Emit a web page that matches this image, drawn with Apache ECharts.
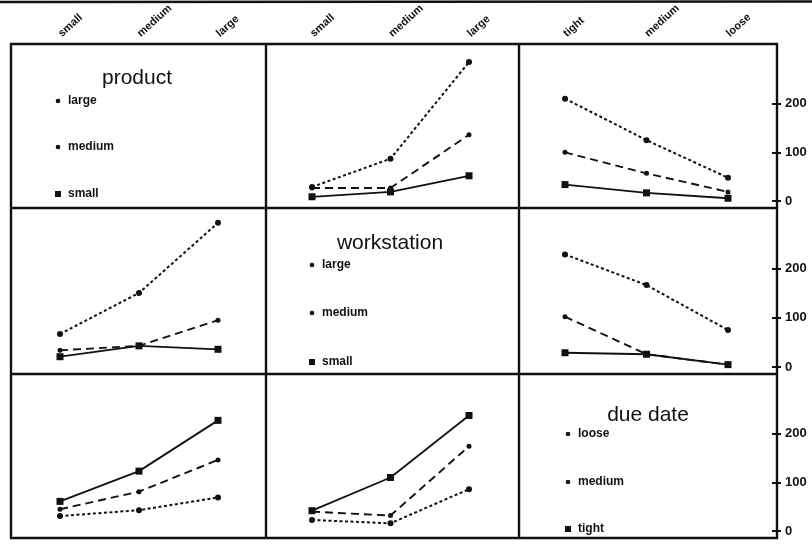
<!DOCTYPE html>
<html><head><meta charset="utf-8">
<script src="https://cdn.jsdelivr.net/npm/echarts@6/dist/echarts.min.js"></script>
<style>html,body{margin:0;padding:0;background:#fff}#c{width:812px;height:547px}</style>
</head><body><div id="c"></div>
<script>
// ---- categories / ticks ----
const productLevels = ['small', 'medium', 'large'];
const workstationLevels = ['small', 'medium', 'large'];
const dueDateLevels = ['tight', 'medium', 'loose'];
const yTicks = [0, 100, 200];

// ---- legend labels (top to bottom) ----
const productLegend = ['large', 'medium', 'small'];
const workstationLegend = ['large', 'medium', 'small'];
const dueDateLegend = ['loose', 'medium', 'tight'];

// ---- row 1: product as trace ----
const productLargeByWorkstation = [29, 87, 285];
const productMediumByWorkstation = [27, 27, 136];
const productSmallByWorkstation = [9, 19, 52];
const productLargeByDueDate = [210, 125, 48];
const productMediumByDueDate = [100, 57, 19];
const productSmallByDueDate = [34, 17, 6];

// ---- row 2: workstation as trace ----
const workstationLargeByProduct = [67, 150, 292];
const workstationMediumByProduct = [34, 43, 95];
const workstationSmallByProduct = [21, 43, 36];
const workstationLargeByDueDate = [228, 166, 75];
const workstationMediumByDueDate = [102, 26, 5];
const workstationSmallByDueDate = [29, 26, 5];

// ---- row 3: due date as trace ----
const dueLooseByProduct = [31, 43, 69];
const dueMediumByProduct = [45, 81, 146];
const dueTightByProduct = [61, 123, 227];
const dueLooseByWorkstation = [23, 16, 86];
const dueMediumByWorkstation = [40, 32, 174];
const dueTightByWorkstation = [42, 110, 237];

// ---- layout ----
const INK = '#111';
const FONT = '"Liberation Sans", Arial, sans-serif';
const colLeft = [60, 312, 565], colWidth = [158, 157, 163];
const rowTop = [44, 208, 374], rowHeight = [164, 166, 164];
const frameX = [11, 266, 519, 777], frameY = [44, 208, 374, 538];
const levels = [productLevels, workstationLevels, dueDateLevels];

const panels = [
  {r: 0, c: 1, data: [productLargeByWorkstation, productMediumByWorkstation, productSmallByWorkstation], names: productLegend},
  {r: 0, c: 2, data: [productLargeByDueDate, productMediumByDueDate, productSmallByDueDate], names: productLegend},
  {r: 1, c: 0, data: [workstationLargeByProduct, workstationMediumByProduct, workstationSmallByProduct], names: workstationLegend},
  {r: 1, c: 2, data: [workstationLargeByDueDate, workstationMediumByDueDate, workstationSmallByDueDate], names: workstationLegend},
  {r: 2, c: 0, data: [dueLooseByProduct, dueMediumByProduct, dueTightByProduct], names: dueDateLegend},
  {r: 2, c: 1, data: [dueLooseByWorkstation, dueMediumByWorkstation, dueTightByWorkstation], names: dueDateLegend}
];

const roleStyle = [
  {type: [3, 2.5], width: 2, symbol: 'circle', size: 6},
  {type: [8, 5], width: 1.9, symbol: 'circle', size: 5},
  {type: 'solid', width: 1.8, symbol: 'rect', size: 7}
];

const grid = [], xAxis = [], yAxis = [], series = [];
const yIndexOf = {};
for (let r = 0; r < 3; r++) {
  for (let c = 0; c < 3; c++) {
    const g = r * 3 + c;
    grid.push({left: colLeft[c], width: colWidth[c], top: rowTop[r], height: rowHeight[r]});
    xAxis.push({
      gridIndex: g, type: 'category', data: levels[c], boundaryGap: false,
      position: 'top', show: r === 0,
      axisLine: {show: false}, axisTick: {show: false}, splitLine: {show: false},
      axisLabel: {interval: 0, rotate: 42, margin: 9, fontSize: 11, fontWeight: 'bold', color: INK, fontFamily: FONT}
    });
    yIndexOf[g] = yAxis.length;
    if (c === 2) {
      yAxis.push({
        gridIndex: g, type: 'value', min: -14, max: 322, position: 'right', offset: 49,
        axisLine: {show: false}, splitLine: {show: false},
        axisTick: {show: true, inside: true, length: 5, customValues: yTicks, lineStyle: {color: INK, width: 2}},
        axisLabel: {show: false}
      });
      yAxis.push({
        gridIndex: g, type: 'value', min: -14, max: 322, position: 'right', offset: 49,
        axisLine: {show: false}, splitLine: {show: false},
        axisTick: {show: true, inside: false, length: 4, customValues: yTicks, lineStyle: {color: INK, width: 2}},
        axisLabel: {show: true, customValues: yTicks, margin: 8, fontSize: 13, fontWeight: 'bold', color: INK, fontFamily: FONT}
      });
    } else {
      yAxis.push({gridIndex: g, type: 'value', min: -14, max: 322, show: false});
    }
  }
}

panels.forEach(p => {
  const g = p.r * 3 + p.c;
  p.data.forEach((vals, k) => {
    const s = roleStyle[k];
    series.push({
      type: 'line', name: p.names[k], xAxisIndex: g, yAxisIndex: yIndexOf[g],
      data: vals, symbol: s.symbol, symbolSize: s.size, showSymbol: true,
      lineStyle: {color: INK, width: s.width, type: s.type},
      itemStyle: {color: INK}, z: 3 - k
    });
  });
});

// ---- frame, titles and legends ----
const graphic = [];
graphic.push({type: 'line', shape: {x1: 0, y1: 2, x2: 812, y2: 1.5}, style: {stroke: INK, lineWidth: 2.5}});
graphic.push({type: 'rect', shape: {x: frameX[0], y: frameY[0], width: frameX[3] - frameX[0], height: frameY[3] - frameY[0]},
  style: {fill: 'none', stroke: INK, lineWidth: 2.4}});
[frameX[1], frameX[2]].forEach(x => graphic.push({type: 'line', shape: {x1: x, y1: frameY[0], x2: x, y2: frameY[3]}, style: {stroke: INK, lineWidth: 2.4}}));
[frameY[1], frameY[2]].forEach(y => graphic.push({type: 'line', shape: {x1: frameX[0], y1: y, x2: frameX[3], y2: y}, style: {stroke: INK, lineWidth: 2.4}}));

const legendPanels = [
  {title: 'product', tx: 137, ty: 78, dx: 58, ys: [101, 147, 194], names: productLegend},
  {title: 'workstation', tx: 390, ty: 243, dx: 312, ys: [265, 313, 362], names: workstationLegend},
  {title: 'due date', tx: 648, ty: 415, dx: 568, ys: [434, 482, 529], names: dueDateLegend}
];
legendPanels.forEach(lp => {
  graphic.push({type: 'text', style: {text: lp.title, x: lp.tx, y: lp.ty, align: 'center', verticalAlign: 'middle',
    font: '21px ' + FONT, fill: INK}});
  lp.names.forEach((n, k) => {
    const y = lp.ys[k];
    if (k === 2) {
      graphic.push({type: 'rect', shape: {x: lp.dx - 3, y: y - 3, width: 6, height: 6}, style: {fill: INK}});
    } else {
      graphic.push({type: 'circle', shape: {cx: lp.dx, cy: y, r: 2.3}, style: {fill: INK}});
    }
    graphic.push({type: 'text', style: {text: n, x: lp.dx + 10, y: y, align: 'left', verticalAlign: 'middle',
      font: 'bold 12px ' + FONT, fill: INK}});
  });
});

const chart = echarts.init(document.getElementById('c'), null, {renderer: 'canvas'});
chart.setOption({
  animation: false, backgroundColor: '#fff',
  grid, xAxis, yAxis, series, graphic
});
</script></body></html>
